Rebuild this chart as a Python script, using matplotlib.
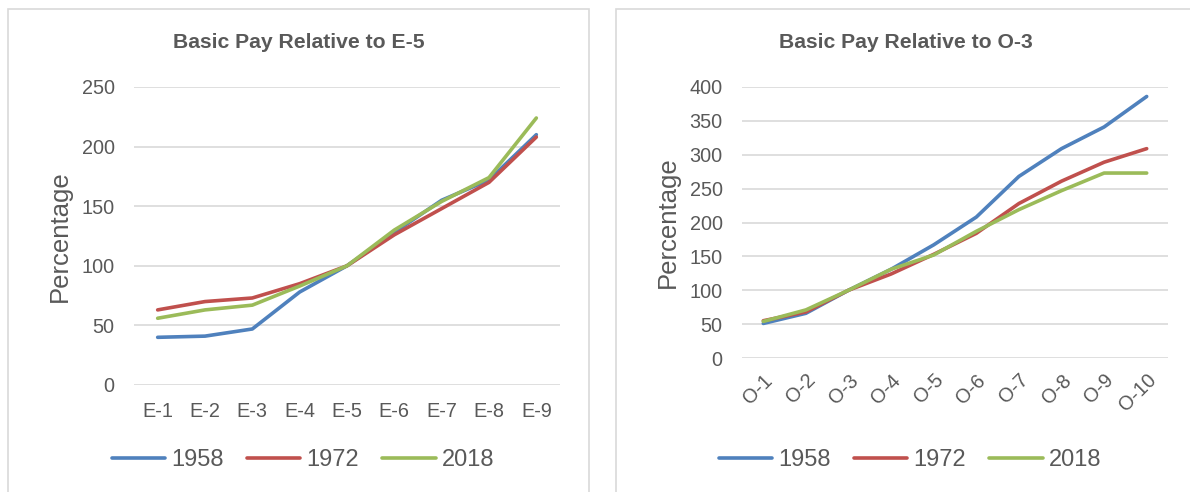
import matplotlib
matplotlib.use('Agg')
import matplotlib.pyplot as plt
from matplotlib.patches import Rectangle

plt.rcParams['font.family'] = ['Liberation Sans', 'DejaVu Sans']

# grades and basic pay as a percentage of the reference grade
enlisted = ['E-1', 'E-2', 'E-3', 'E-4', 'E-5', 'E-6', 'E-7', 'E-8', 'E-9']
enl_1958 = [40, 41, 47, 78, 100, 128, 155, 172, 210]
enl_1972 = [63, 70, 73, 85, 100, 126, 148, 170, 208]
enl_2018 = [56, 63, 67, 83, 100, 130, 154, 174, 224]

officers = ['O-1', 'O-2', 'O-3', 'O-4', 'O-5', 'O-6', 'O-7', 'O-8', 'O-9', 'O-10']
off_1958 = [51, 66, 100, 131, 167, 208, 268, 309, 341, 386]
off_1972 = [55, 68, 100, 124, 153, 184, 228, 261, 289, 309]
off_2018 = [54, 71, 100, 131, 152, 187, 219, 247, 273, 273]

years = ['1958', '1972', '2018']
colors = ['#4F81BD', '#C0504D', '#9BBB59']
TXT = '#595959'
GRID = '#D9D9D9'

W, H = 1190, 492
fig = plt.figure(figsize=(W / 100, H / 100), dpi=100)
fig.patch.set_facecolor('white')

def px(x0, y_top, w, h):
    return [x0 / W, 1 - (y_top + h) / H, w / W, h / H]

# chart frames
fig.add_artist(Rectangle((8 / W, -0.1), (589 - 8) / W, 1.1 - 9 / H, transform=fig.transFigure,
                         fill=False, ec=GRID, lw=1.2))
fig.add_artist(Rectangle((616 / W, -0.1), 0.6, 1.1 - 9 / H, transform=fig.transFigure,
                         fill=False, ec=GRID, lw=1.2))

def panel(rect, cats, series, ymax, step, title, title_x, leg_x, rotate=False):
    ax = fig.add_axes(rect)
    x = range(len(cats))
    for vals, c, lab in zip(series, colors, years):
        ax.plot(x, vals, color=c, lw=2.6, label=lab, solid_capstyle='round')
    ax.set_xlim(-0.5, len(cats) - 0.5)
    ax.set_ylim(0, ymax)
    ax.set_yticks(range(0, ymax + 1, step))
    ax.yaxis.grid(True, color=GRID, lw=1.2)
    ax.set_axisbelow(True)
    for s in ax.spines.values():
        s.set_visible(False)
    ax.tick_params(axis='y', length=0, pad=14, labelsize=14.3, labelcolor=TXT)
    ax.set_xticks(list(x))
    if rotate:
        ax.set_xticklabels(cats, rotation=45, ha='right', va='top', rotation_mode='anchor')
        ax.tick_params(axis='x', length=0, pad=9, labelsize=14.3, labelcolor=TXT)
    else:
        ax.set_xticklabels(cats)
        ax.tick_params(axis='x', length=0, pad=12, labelsize=14.3, labelcolor=TXT)
    ax.set_ylabel('Percentage', fontsize=18.5, color=TXT, va='center')
    ax.yaxis.set_label_coords(-0.175, 0.5)
    fig.text(title_x / W, 1 - 42 / H, title, ha='center', va='center',
             fontsize=15.2, fontweight='bold', color=TXT)
    h, l = ax.get_legend_handles_labels()
    fig.legend(h, l, loc='center', bbox_to_anchor=(leg_x / W, 1 - 460 / H), ncol=3,
               frameon=False, fontsize=17, labelcolor=TXT, handlelength=2.25,
               handletextpad=0.25, columnspacing=1.0)
    return ax

panel(px(134, 87, 426, 298), enlisted, [enl_1958, enl_1972, enl_2018], 250, 50,
      'Basic Pay Relative to E-5', 298.5, 303)
panel(px(742, 87, 426, 271), officers, [off_1958, off_1972, off_2018], 400, 50,
      'Basic Pay Relative to O-3', 906, 910, rotate=True)

fig.savefig('out.png', dpi=100, facecolor='white')
